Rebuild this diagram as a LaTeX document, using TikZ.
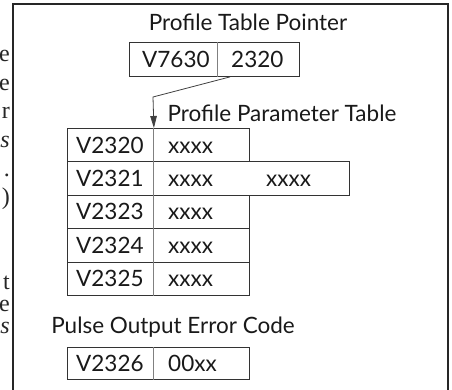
\documentclass[tikz,border=0pt]{standalone}
\usepackage{fontspec}
\setmainfont{Lato}
\newfontfamily\fragfont{Liberation Serif}
\usetikzlibrary{arrows.meta}
\begin{document}
\begin{tikzpicture}[x=1pt,y=-1pt,
  frame/.style={draw=black!85,line width=2.4pt},
  cell/.style={draw=black!80,line width=0.9pt,rectangle,anchor=north west,inner sep=0pt,minimum height=33.4pt},
  divider/.style={draw=black!50,line width=1pt},
  txt/.style={anchor=base west,inner sep=0pt,text=black!90,font=\fontsize{22.5}{27}\selectfont},
  ttl/.style={anchor=base,inner sep=0pt,text=black!90,font=\fontsize{22.5}{27}\selectfont},
  frag/.style={anchor=base east,inner sep=0pt,text=black!85,font=\fragfont\fontsize{24}{28}\selectfont},
  arr/.style={draw=black!75,line width=0.8pt,-{Triangle[length=12pt,width=6.5pt]}}]
\useasboundingbox (0,0) rectangle (452,390);
% outer frame
\draw[frame] (13,392) -- (13,4) -- (448,4) -- (448,392);
% cut-off text fragments at the left edge
\node[frag] (f1) at (10,62) {e};
\node[frag] (f2) at (10,90.5) {e};
\node[frag] (f3) at (10,119) {r};
\node[frag] (f4) at (10,147.5) {\itshape s};
\node[frag] (f5) at (10,176) {.};
\node[frag] (f6) at (10,204.5) {)};
\node[frag] (f7) at (10,289) {t};
\node[frag] (f8) at (10,311) {e};
\node[frag] (f9) at (10,333) {\itshape s};
% titles
\node[ttl] (tp) at (248,31) {Profile Table Pointer};
\node[ttl] (tt) at (282,122) {Profile Parameter Table};
\node[ttl] (te) at (173,333) {Pulse Output Error Code};
% pointer box
\node[cell,minimum width=88pt,minimum height=34pt] (pl) at (129,42) {};
\node[cell,minimum width=82pt,minimum height=34pt] (pv) at (217,42) {};
\draw[divider] (pl.north east) -- (pl.south east);
\node[txt,anchor=base west] (plt) at ([xshift=13pt,yshift=-8pt]pl.west) {V7630};
\node[txt,anchor=base west] (pvt) at ([xshift=14pt,yshift=-8pt]pv.west) {2320};
% parameter table
\foreach \n/\top/\lab in {1/128/V2320,2/161.4/V2321,3/194.8/V2323,4/228.2/V2324,5/261.6/V2325}{
  \node[cell,minimum width=86pt] (r\n l) at (67,\top) {};
  \node[txt] (r\n lt) at ([xshift=9pt,yshift=-8pt]r\n l.west) {\lab};
}
\foreach \n/\top in {1/128,3/194.8,4/228.2,5/261.6}{
  \node[cell,minimum width=96pt] (r\n v) at (153,\top) {};
  \node[txt] (r\n vt) at ([xshift=15pt,yshift=-8pt]r\n v.west) {xxxx};
}
\node[cell,minimum width=196pt] (r2v) at (153,161.4) {};
\node[txt] (r2vt) at ([xshift=15pt,yshift=-8pt]r2v.west) {xxxx};
\node[txt] (r2vu) at ([xshift=113pt,yshift=-8pt]r2v.west) {xxxx};
\draw[divider] (r1l.north east) -- (r5l.south east);
% error code box
\node[cell,minimum width=86pt,minimum height=32pt] (el) at (67,347) {};
\node[cell,minimum width=96pt,minimum height=32pt] (ev) at (153,347) {};
\draw[divider] (el.north east) -- (el.south east);
\node[txt] (elt) at ([xshift=9pt,yshift=-8pt]el.west) {V2326};
\node[txt] (evt) at ([xshift=15pt,yshift=-8pt]ev.west) {00xx};
% pointer arrow
\coordinate (bend) at (153,97);
\draw[arr] ([xshift=13pt]pv.south west) -- (bend) -- (r1l.north east);
\end{tikzpicture}
\end{document}
